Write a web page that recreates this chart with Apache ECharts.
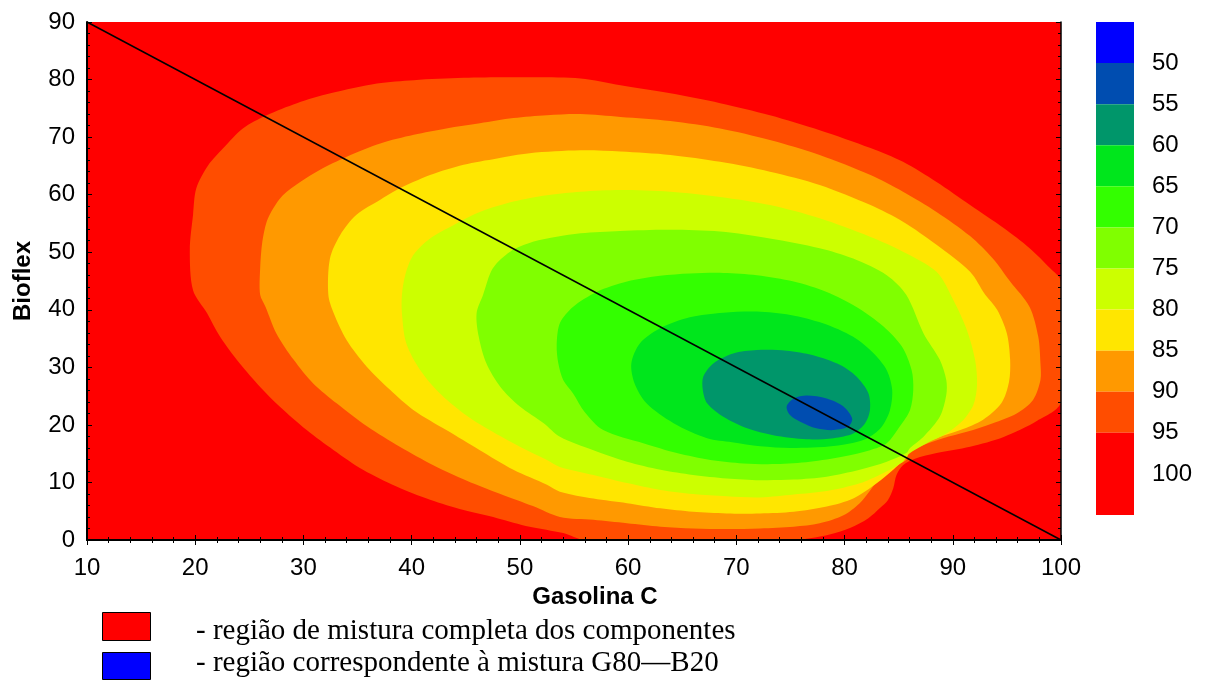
<!DOCTYPE html>
<html>
<head>
<meta charset="utf-8">
<script src="https://cdn.jsdelivr.net/npm/echarts@6/dist/echarts.min.js"></script>
<style>
  html, body { margin: 0; padding: 0; background: #fff; }
  #main { width: 1212px; height: 683px; }
</style>
</head>
<body>
<div id="main"></div>
<script>
    // contour boundaries [Gasolina C, Bioflex] (region below each level)
    const c95 = [[19.8,43.4],[19.5,50.4],[19.8,56.5],[20.1,61.1],[21.2,65.1],[22.6,68.1],[24.4,71.5],[26.6,73.8],[29.4,75.9],[32.5,77.6],[36.8,79.3],[40.2,79.9],[44.8,80.3],[49.4,80.4],[55.6,80.2],[59.3,79.0],[63.9,77.6],[68.5,75.9],[73.1,73.8],[77.7,71.2],[82.4,68.1],[85.4,65.7],[88.5,62.2],[91.6,58.2],[94.7,54.2],[97.1,50.7],[99.0,47.2],[100,44.9],[100,24.0],[97.8,20.7],[94.7,17.9],[91.6,16.2],[88.5,15.1],[86.5,14.1],[85.4,13.0],[84.8,11.3],[84.5,9.0],[84.0,6.9],[83.3,5.6],[82.2,3.8],[80.5,2.1],[78.7,1.0],[76.8,0.3],[75.4,0],[56.0,0],[54.0,1.2],[50.9,2.3],[47.9,3.8],[44.8,5.2],[41.7,7.0],[38.6,9.3],[35.5,12.2],[32.8,15.6],[30.3,19.1],[27.8,23.2],[26.0,26.6],[24.1,30.7],[22.3,35.3],[21.1,39.4]];
    const c90 = [[26.5,40.5],[26.0,42.6],[26.0,47.2],[26.2,51.8],[26.6,55.3],[27.2,57.6],[28.1,59.9],[29.7,62.2],[31.5,64.3],[34.0,66.6],[37.1,68.9],[40.2,70.4],[43.2,71.5],[46.3,72.4],[49.4,73.3],[52.5,73.8],[55.6,74.0],[59.3,73.5],[63.9,72.8],[68.5,71.5],[73.1,69.5],[77.7,66.9],[82.4,63.4],[85.4,60.5],[88.5,57.0],[91.6,52.8],[93.7,48.9],[95.3,44.9],[97.1,40.5],[97.9,35.3],[98.1,30.7],[98.1,27.8],[97.4,24.3],[95.9,22.0],[93.7,20.3],[91.3,18.8],[89.1,17.7],[87.3,16.5],[86.0,15.3],[85.7,13.9],[84.5,12.7],[83.3,11.0],[82.4,8.7],[81.4,6.4],[79.9,4.3],[77.7,2.9],[75.3,2.3],[72.2,2.0],[69.1,1.9],[66.0,2.0],[63.0,2.3],[59.9,2.9],[56.8,3.5],[53.7,4.0],[51.2,5.9],[48.2,8.0],[45.1,10.3],[42.0,13.0],[38.9,16.2],[35.9,19.7],[33.1,23.7],[30.9,27.2],[29.1,31.3],[27.5,35.9]];
    const c85 = [[32.8,39.4],[32.3,42.6],[32.45,48.9],[33.4,53.0],[34.9,56.5],[37.1,59.1],[38.6,60.8],[41.7,63.4],[44.8,65.2],[47.9,66.3],[50.9,67.2],[55.6,67.7],[59.3,67.5],[63.9,66.9],[68.5,65.7],[73.1,64.0],[77.7,61.7],[82.4,58.2],[85.4,55.3],[88.5,51.3],[91.6,46.6],[93.0,42.6],[94.1,40.0],[95.0,35.9],[95.3,31.3],[95.2,27.5],[94.5,23.8],[92.8,20.9],[90.7,19.1],[88.5,17.7],[86.4,16.2],[85.7,14.4],[84.5,12.2],[83.0,9.9],[80.8,7.2],[78.35,5.8],[75.3,4.9],[72.2,4.6],[69.1,4.6],[66.0,4.9],[63.0,5.5],[59.9,6.4],[56.8,7.2],[53.7,8.4],[52.5,9.6],[49.4,12.2],[46.3,15.6],[43.2,19.1],[40.15,22.6],[38.0,26.1],[35.85,30.1],[34.0,34.7]];
    const c80 = [[39.5,34.2],[39.1,39.4],[39.1,42.6],[39.4,46.0],[40.15,49.5],[41.7,52.4],[43.85,54.7],[46.3,57.0],[49.4,58.8],[52.5,59.9],[55.6,60.5],[59.25,60.8],[63.9,60.5],[68.5,59.6],[73.1,58.2],[77.7,55.9],[82.35,52.7],[85.4,50.1],[88.5,46.6],[90.05,41.7],[91.3,36.5],[92.06,31.3],[92.24,26.9],[91.9,23.45],[90.97,20.85],[89.44,18.54],[87.6,16.8],[85.9,14.9],[85.4,13.6],[83.6,11.65],[81.4,9.85],[78.35,8.5],[75.3,7.9],[72.2,7.4],[69.1,7.6],[66.0,8.0],[63.0,8.7],[59.9,9.9],[56.8,11.3],[53.7,12.7],[52.5,13.9],[50.0,16.2],[47.2,19.1],[44.8,22.0],[42.6,25.5],[40.8,29.5]];
    const c75 = [[46.2,35.3],[46.0,39.4],[46.6,42.6],[47.5,47.2],[49.1,50.1],[51.2,51.8],[53.4,52.7],[55.6,53.3],[59.25,53.7],[63.9,53.9],[68.5,53.6],[73.1,52.4],[77.7,50.7],[80.8,48.9],[83.9,46.0],[85.7,42.6],[87.3,35.9],[88.8,31.3],[89.4,27.8],[89.4,25.2],[88.8,21.4],[87.3,17.95],[86.05,16.0],[85.7,15.1],[83.9,13.6],[81.4,12.2],[78.35,11.0],[75.3,10.5],[72.2,10.4],[69.1,10.7],[66.0,11.3],[63.0,12.2],[59.9,13.6],[56.8,15.6],[53.7,17.95],[52.2,20.3],[50.0,23.2],[48.2,26.6],[46.9,30.7]];
    const c70 = [[53.7,37.7],[54.9,40.5],[57.1,43.1],[59.9,44.9],[62.95,45.9],[65.7,46.3],[68.8,46.4],[71.9,46.0],[75.3,44.9],[78.35,43.1],[81.1,40.5],[83.6,37.1],[85.3,33.6],[86.2,29.5],[86.35,26.1],[86.05,22.6],[85.1,19.7],[83.9,16.8],[82.35,15.6],[79.9,14.5],[76.8,13.6],[73.7,13.2],[70.65,13.3],[67.6,13.9],[64.5,15.1],[61.4,16.8],[57.7,19.1],[56.0,22.2],[54.9,25.5],[54.0,27.8],[53.55,30.7],[53.4,33.9]];
    const c65 = [[60.6,27.2],[60.3,30.7],[61.1,34.2],[62.95,36.8],[65.7,38.7],[68.8,39.5],[71.9,39.7],[75.0,39.1],[78.0,37.65],[80.8,35.3],[82.7,32.4],[83.9,29.5],[84.4,26.1],[84.2,22.6],[83.4,19.6],[82.0,17.6],[80.0,16.6],[77.5,16.1],[75.0,16.0],[72.2,16.3],[69.6,17.0],[67.3,17.7],[64.2,20.3],[61.7,23.75]];
    const c60 = [[66.9,26.1],[66.95,28.4],[67.9,30.7],[69.7,32.4],[71.9,33.0],[74.65,32.9],[77.1,32.1],[79.6,30.4],[81.1,28.4],[82.2,25.5],[82.35,22.6],[81.9,20.3],[80.8,18.5],[79.0,17.7],[76.5,17.5],[73.4,18.2],[71.0,19.4],[68.8,21.4],[67.3,23.75]];
    const c55 = [[74.96,21.7],[74.65,23.2],[75.3,24.6],[76.5,25.1],[78.35,24.6],[79.9,23.2],[80.7,21.1],[80.35,19.7],[79.0,19.1],[77.4,19.4],[75.9,20.55]];

    // diagonal G+B = 100 line
    const mixLine = [[10, 90], [100, 0]];

    // colour scale levels (top to bottom)
    const scaleLevels = [45, 50, 55, 60, 65, 70, 75, 80, 85, 90, 95, 100, 105];

    const contours = [c95, c90, c85, c80, c75, c70, c65, c60, c55];
    const contourFills = ['#FF4D00', '#FF9900', '#FFE600', '#CCFF00', '#80FF00', '#33FF00', '#00E61C', '#00966A', '#004DB0'];
    const scaleFills = ['#0000FF', '#004DB0', '#00966A', '#00E61C', '#33FF00', '#80FF00', '#CCFF00', '#FFE600', '#FF9900', '#FF4D00', '#FF0000', '#FF0000'];

    const sans = '"Liberation Sans", Arial, sans-serif';
    const serif = '"Liberation Serif", "Times New Roman", serif';

    let myChart = echarts.init(document.getElementById('main'), null, {renderer: 'canvas'});

    let tickLabel = {
        color: '#000',
        fontFamily: sans,
        fontSize: 24
    };

    let option = {
        backgroundColor: '#fff',
        animation: false,
        grid: [
            {left: 87, top: 22, width: 974, height: 518, show: true, backgroundColor: '#FF0000', borderWidth: 0},
            {left: 1096, top: 22, width: 38, height: 493}
        ],
        xAxis: [
            {
                type: 'value', gridIndex: 0, min: 10, max: 100, interval: 10, z: 10,
                name: 'Gasolina C', nameLocation: 'middle', nameGap: 40,
                nameTextStyle: {color: '#000', fontFamily: sans, fontSize: 24, fontWeight: 'bold', padding: [0, 0, 0, 42]},
                axisLine: {show: true, lineStyle: {color: '#000', width: 2}},
                axisTick: {show: true, inside: true, length: 5, lineStyle: {color: '#000'}},
                minorTick: {show: true, splitNumber: 5, length: 3, lineStyle: {color: '#000'}},
                axisLabel: Object.assign({margin: 16}, tickLabel),
                splitLine: {show: false}
            },
            {
                type: 'value', gridIndex: 0, position: 'top', min: 10, max: 100, interval: 10, z: 10,
                axisLine: {show: true, lineStyle: {color: '#000', width: 1.5}},
                axisTick: {show: true, inside: true, length: 5, lineStyle: {color: '#000'}},
                minorTick: {show: true, splitNumber: 5, length: 3, lineStyle: {color: '#000'}},
                axisLabel: {show: false},
                splitLine: {show: false}
            },
            {type: 'value', gridIndex: 1, min: 0, max: 1, show: false}
        ],
        yAxis: [
            {
                type: 'value', gridIndex: 0, min: 0, max: 90, interval: 10, z: 10,
                name: 'Bioflex', nameLocation: 'middle', nameGap: 52, nameRotate: 90,
                nameTextStyle: {color: '#000', fontFamily: sans, fontSize: 24, fontWeight: 'bold'},
                axisLine: {show: true, lineStyle: {color: '#000', width: 2}},
                axisTick: {show: true, inside: true, length: 5, lineStyle: {color: '#000'}},
                minorTick: {show: true, splitNumber: 5, length: 3, lineStyle: {color: '#000'}},
                axisLabel: Object.assign({margin: 12}, tickLabel),
                splitLine: {show: false}
            },
            {
                type: 'value', gridIndex: 0, position: 'right', min: 0, max: 90, interval: 10, z: 10,
                axisLine: {show: true, lineStyle: {color: '#000', width: 1.5}},
                axisTick: {show: true, inside: true, length: 5, lineStyle: {color: '#000'}},
                minorTick: {show: true, splitNumber: 5, length: 3, lineStyle: {color: '#000'}},
                axisLabel: {show: false},
                splitLine: {show: false}
            },
            {
                type: 'value', gridIndex: 1, position: 'right', inverse: true,
                min: 45, max: 105, interval: 5,
                axisLine: {show: false},
                axisTick: {show: false},
                splitLine: {show: false},
                axisLabel: Object.assign({
                    margin: 18,
                    formatter: function (v) {
                        return (v < 50 || v > 100) ? '' : String(v);
                    }
                }, tickLabel)
            }
        ],
        graphic: [
            {type: 'rect', left: 102, top: 612, shape: {width: 48, height: 28}, style: {fill: '#FF0000', stroke: '#000', lineWidth: 1}},
            {type: 'rect', left: 102, top: 652, shape: {width: 48, height: 27}, style: {fill: '#0000FF', stroke: '#000', lineWidth: 1}},
            {type: 'text', left: 196, top: 617, style: {text: '- região de mistura completa dos componentes', fill: '#000', font: '29px ' + serif}},
            {type: 'text', left: 196, top: 649, style: {text: '- região correspondente à mistura G80—B20', fill: '#000', font: '29px ' + serif}}
        ],
        series: [
            {
                type: 'custom',
                name: 'contornos',
                xAxisIndex: 0,
                yAxisIndex: 0,
                clip: true,
                data: contours.map(function (c) { return c[0]; }),
                renderItem: function (params, api) {
                    let poly = contours[params.dataIndex];
                    return {
                        type: 'polygon',
                        shape: {points: poly.map(function (p) { return api.coord(p); }), smooth: 0.3},
                        style: {fill: contourFills[params.dataIndex], stroke: null}
                    };
                },
                silent: true
            },
            {
                type: 'line',
                name: 'G+B',
                xAxisIndex: 0,
                yAxisIndex: 0,
                data: mixLine,
                symbol: 'none',
                lineStyle: {color: '#000', width: 1.5},
                z: 5,
                silent: true
            },
            {
                type: 'custom',
                name: 'escala',
                xAxisIndex: 2,
                yAxisIndex: 2,
                data: scaleLevels.slice(0, -1).map(function (v, i) { return [0, v, scaleLevels[i + 1]]; }),
                encode: {x: 0, y: [1, 2]},
                renderItem: function (params, api) {
                    let p0 = api.coord([0, api.value(1)]);
                    let p1 = api.coord([1, api.value(2)]);
                    return {
                        type: 'rect',
                        shape: {x: p0[0], y: Math.min(p0[1], p1[1]), width: p1[0] - p0[0], height: Math.abs(p1[1] - p0[1])},
                        style: {fill: scaleFills[params.dataIndex]}
                    };
                },
                silent: true
            }
        ]
    };

    myChart.setOption(option);
</script>
</body>
</html>
